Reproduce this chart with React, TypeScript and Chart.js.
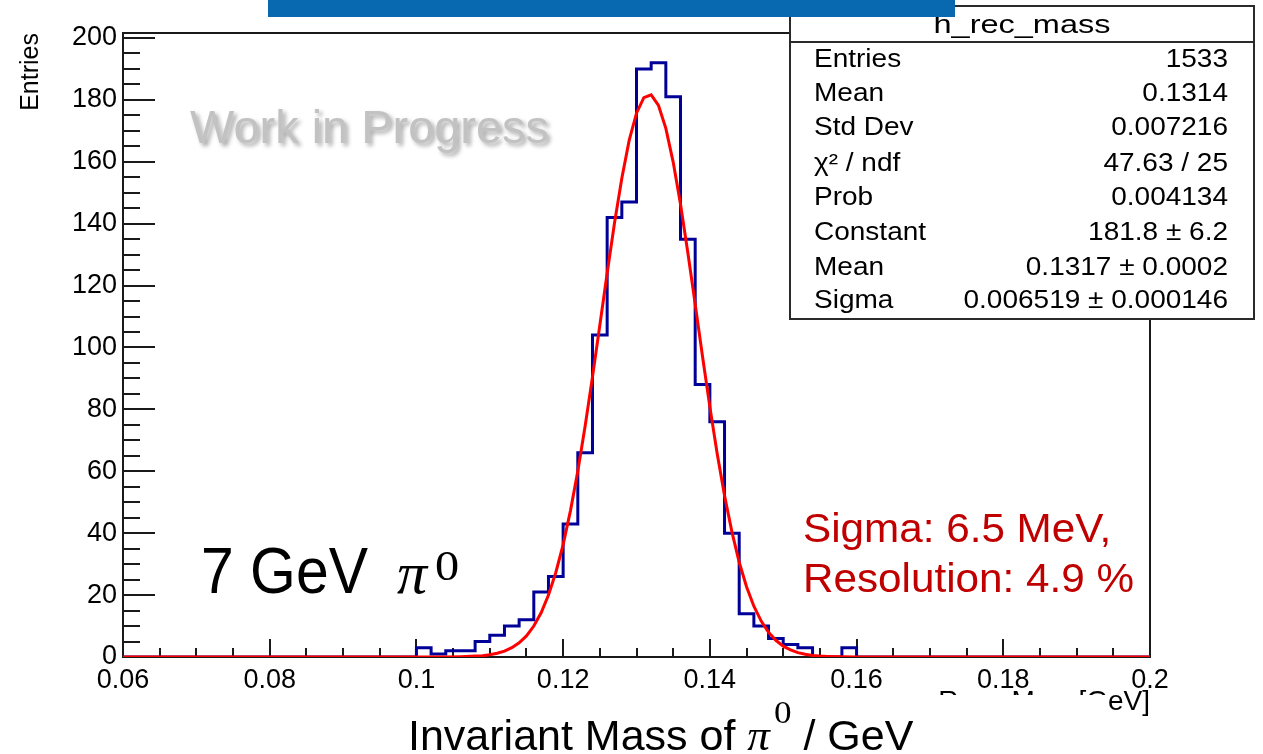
import React, { useEffect, useRef } from 'react';
import { Chart, registerables } from 'chart.js';

Chart.register(...registerables);

// ---------- data ----------
const binLow = 0.06;
const binWidth = 0.002;
// counts per 0.002 bin, 0.060 .. 0.200 (70 bins)
const counts = [
  0, 0, 0, 0, 0, 0, 0, 0, 0, 0, // 0.060 - 0.078
  0, 0, 0, 0, 0, 0, 0, 0, 0, 0, // 0.080 - 0.098
  3, 1, 2, 2, 5, 7, 10, 12, 21, 26, // 0.100 - 0.118
  43, 66, 104, 142, 147, 190, 192, 181, 135, 88, // 0.120 - 0.138
  76, 40, 14, 10, 6, 4, 3, 0, 0, 3, // 0.140 - 0.158
  0, 0, 0, 0, 0, 0, 0, 0, 0, 0, // 0.160 - 0.178
  0, 0, 0, 0, 0, 0, 0, 0, 0, 0, // 0.180 - 0.198
];

// gaussian fit curve
const fitX = [
  0.06, 0.1, 0.104, 0.106, 0.108,
  0.109, 0.110, 0.111, 0.112, 0.113, 0.114, 0.115, 0.116, 0.117, 0.118,
  0.119, 0.120, 0.121, 0.122, 0.123, 0.124, 0.125, 0.126, 0.127, 0.128,
  0.129, 0.130, 0.131, 0.132, 0.133, 0.134, 0.135, 0.136, 0.137, 0.138,
  0.139, 0.140, 0.141, 0.142, 0.143, 0.144, 0.145, 0.146, 0.147, 0.148,
  0.149, 0.150, 0.151, 0.152, 0.153, 0.154, 0.155,
  0.156, 0.158, 0.160, 0.2,
];
const fitY = [
  0, 0, 0.0, 0.1, 0.3,
  0.4, 0.7, 1.2, 1.9, 3.0, 4.6, 6.8, 10.0, 14.3, 20.0,
  27.3, 36.3, 47.3, 60.1, 74.6, 90.5, 107.2, 124.0, 140.2, 154.7,
  166.9, 175.7, 180.7, 181.6, 178.2, 170.8, 159.9, 146.3, 130.6, 114.0,
  97.1, 80.8, 65.7, 52.2, 40.5, 30.6, 22.7, 16.4, 11.6, 8.0,
  5.4, 3.5, 2.3, 1.4, 0.9, 0.5, 0.3,
  0.2, 0.1, 0.0, 0,
];

const xMin = 0.06;
const xMax = 0.2;
const xMajorStep = 0.02;
const xMinorStep = 0.005;
const yMin = 0;
const yMax = 201.6;
const yTickTop = 200;
const yMajorStep = 20;
const yMinorStep = 5;

const statsTitle = 'h_rec_mass';
const statsLabels = ['Entries', 'Mean', 'Std Dev', 'χ² / ndf', 'Prob', 'Constant', 'Mean', 'Sigma'];
const statsValues = ['1533', '0.1314', '0.007216', '47.63 / 25', '0.004134', '181.8 ± 6.2', '0.1317 ± 0.0002', '0.006519 ± 0.000146'];

const SANS = '"Liberation Sans", Arial, Helvetica, sans-serif';
const SERIF = '"Liberation Serif", "Times New Roman", serif';

function txt(
  ctx: CanvasRenderingContext2D,
  s: string,
  x: number,
  y: number,
  font: string,
  color: string,
  align: CanvasTextAlign = 'left',
  sx = 1
) {
  ctx.save();
  ctx.font = font;
  ctx.fillStyle = color;
  ctx.textAlign = align;
  ctx.textBaseline = 'alphabetic';
  ctx.translate(x, y);
  ctx.scale(sx, 1);
  ctx.fillText(s, 0, 0);
  const w = ctx.measureText(s).width * sx;
  ctx.restore();
  return w;
}

const framePlugin = {
  id: 'rootFrame',
  beforeDatasetsDraw(chart: any) {
    const { ctx, chartArea: a, scales } = chart;
    const xs = scales.x;
    const ys = scales.y;
    ctx.save();
    ctx.strokeStyle = '#1a1a1a';
    ctx.lineWidth = 2;
    ctx.strokeRect(a.left, a.top, a.right - a.left, a.bottom - a.top);
    ctx.beginPath();
    const nY = Math.round((yTickTop - yMin) / yMinorStep);
    for (let k = 0; k <= nY; k++) {
      const v = yMin + k * yMinorStep;
      const py = Math.round(ys.getPixelForValue(v));
      const len = k % (yMajorStep / yMinorStep) === 0 ? 32 : 17;
      ctx.moveTo(a.left, py);
      ctx.lineTo(a.left + len, py);
    }
    const nX = Math.round((xMax - xMin) / xMinorStep);
    const perMajor = Math.round(xMajorStep / xMinorStep);
    for (let k = 0; k <= nX; k++) {
      const v = xMin + k * xMinorStep;
      const px = Math.round(xs.getPixelForValue(v));
      const len = k % perMajor === 0 ? 18 : 9;
      ctx.moveTo(px, a.bottom);
      ctx.lineTo(px, a.bottom - len);
    }
    ctx.stroke();
    ctx.restore();
  },
};

const overlayPlugin = {
  id: 'overlays',
  afterDraw(chart: any) {
    const { ctx } = chart;
    ctx.save();

    // Work in Progress
    ctx.save();
    ctx.shadowColor = 'rgba(0,0,0,0.35)';
    ctx.shadowOffsetX = 3;
    ctx.shadowOffsetY = 3;
    ctx.shadowBlur = 4;
    txt(ctx, 'Work in Progress', 190, 143, `46px ${SANS}`, '#c2c2c2', 'left', 1.02);
    ctx.restore();

    // stats box
    const bx = 790, by = 6, bw = 464, bh = 313;
    ctx.fillStyle = '#ffffff';
    ctx.fillRect(bx, by, bw, bh);
    ctx.strokeStyle = '#2a2a2a';
    ctx.lineWidth = 2;
    ctx.strokeRect(bx, by, bw, bh);
    ctx.beginPath();
    ctx.moveTo(bx, 42);
    ctx.lineTo(bx + bw, 42);
    ctx.stroke();
    txt(ctx, statsTitle, bx + bw / 2, 33, `26px ${SANS}`, '#000', 'center', 1.25);
    const baselines = [66.7, 101, 135, 170.7, 205, 240, 275, 308.3];
    statsLabels.forEach((l, i) => {
      txt(ctx, l, 814, baselines[i], `25px ${SANS}`, '#000', 'left', 1.12);
      txt(ctx, statsValues[i], 1228, baselines[i], `25px ${SANS}`, '#000', 'right', 1.12);
    });

    // blue banner
    ctx.fillStyle = '#0868b0';
    ctx.fillRect(268, 0, 687, 17);

    // 7 GeV pi0
    txt(ctx, '7 GeV', 201, 593, `64px ${SANS}`, '#000', 'left', 0.92);
    const pw = txt(ctx, 'π', 397, 593, `italic 60px ${SERIF}`, '#000', 'left', 1);
    txt(ctx, '0', 397 + pw + 8, 580, `42px ${SERIF}`, '#000', 'left', 1.15);

    // sigma / resolution
    txt(ctx, 'Sigma: 6.5 MeV,', 803, 542, `41px ${SANS}`, '#c00000', 'left', 1.03);
    txt(ctx, 'Resolution: 4.9 %', 803, 592, `41px ${SANS}`, '#c00000', 'left', 1.03);

    // white box over the ROOT axis title, then slide label
    ctx.fillStyle = '#ffffff';
    ctx.fillRect(400, 695, 707, 59);
    let lx = 408;
    lx += txt(ctx, 'Invariant Mass of ', lx, 750, `43px ${SANS}`, '#000', 'left', 1);
    lx += txt(ctx, 'π', lx, 750, `italic 45px ${SERIF}`, '#000', 'left', 1);
    lx += 4;
    lx += txt(ctx, '0', lx, 723, `32px ${SERIF}`, '#000', 'left', 1.1);
    txt(ctx, ' / GeV', lx, 750, `43px ${SANS}`, '#000', 'left', 1);

    ctx.restore();
  },
};

export default function App() {
  const ref = useRef<HTMLCanvasElement>(null);

  useEffect(() => {
    const canvas = ref.current;
    if (!canvas) return;
    const histPoints = counts.map((c, i) => ({ x: binLow + i * binWidth, y: c }));
    histPoints.push({ x: xMax, y: counts[counts.length - 1] });
    const fitPoints = fitX.map((x, i) => ({ x, y: fitY[i] }));

    const chart = new Chart(canvas, {
      type: 'line',
      data: {
        datasets: [
          {
            label: 'fit',
            data: fitPoints,
            borderColor: '#ff0000',
            borderWidth: 3,
            pointRadius: 0,
            tension: 0,
            fill: false,
            order: 0,
          },
          {
            label: 'h_rec_mass',
            data: histPoints,
            borderColor: '#000099',
            borderWidth: 3,
            pointRadius: 0,
            stepped: true,
            fill: false,
            order: 1,
          },
        ],
      },
      options: {
        responsive: false,
        animation: false,
        events: [],
        layout: { padding: { left: 0, top: 33, right: 113, bottom: 0 } },
        plugins: {
          legend: { display: false },
          tooltip: { enabled: false },
        },
        scales: {
          x: {
            type: 'linear',
            min: xMin,
            max: xMax,
            grid: { display: false, drawTicks: false },
            border: { display: false },
            ticks: {
              stepSize: xMajorStep,
              autoSkip: false,
              maxRotation: 0,
              padding: 7,
              color: '#000',
              font: { size: 27, family: SANS },
              callback: (v: any) => String(Math.round(Number(v) * 1000) / 1000),
            },
            title: {
              display: true,
              text: 'Reco Mass[GeV]',
              align: 'end',
              color: '#000',
              font: { size: 28, family: SANS },
              padding: { top: 0, bottom: 35 },
            },
            afterFit: (s: any) => {
              s.height = 97;
            },
          },
          y: {
            type: 'linear',
            min: yMin,
            max: yMax,
            grid: { display: false, drawTicks: false },
            border: { display: false },
            ticks: {
              stepSize: yMajorStep,
              includeBounds: false,
              padding: 6,
              color: '#000',
              font: { size: 27, family: SANS },
            },
            title: {
              display: true,
              text: 'Entries',
              align: 'end',
              color: '#000',
              font: { size: 25, family: SANS },
              padding: { top: 16, bottom: 0 },
            },
            afterFit: (s: any) => {
              s.width = 123;
            },
          },
        },
      },
      plugins: [framePlugin, overlayPlugin],
    } as any);

    return () => chart.destroy();
  }, []);

  return (
    <div style={{ position: 'fixed', left: 0, top: 0, width: 1263, height: 754, background: '#fff' }}>
      <canvas ref={ref} width={1263} height={754} style={{ display: 'block', width: 1263, height: 754 }} />
    </div>
  );
}
